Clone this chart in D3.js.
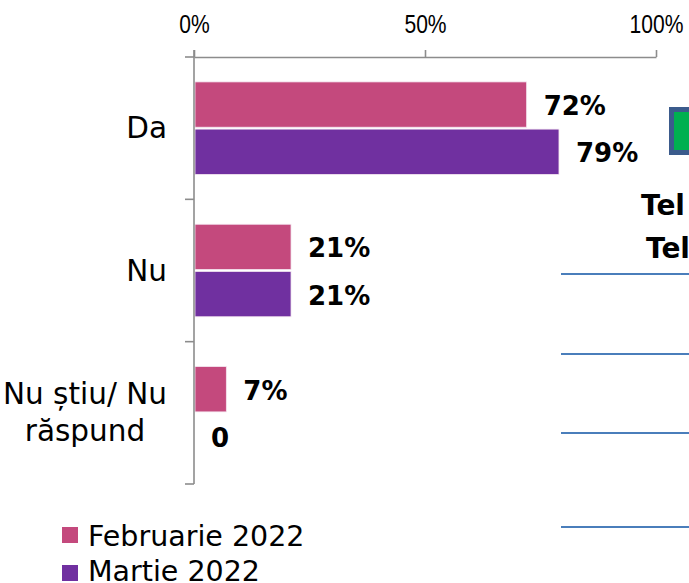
<!DOCTYPE html>
<html>
<head>
<meta charset="utf-8">
<script src="https://cdn.jsdelivr.net/npm/d3@7"></script>
<style>
  body { margin: 0; background: #fff; }
  svg { display: block; }
</style>
</head>
<body>
<div id="chart"></div>
<script>
var categories = ["Da", "Nu", "Nu știu/ Nu|răspund"];
var seriesNames = ["Februarie 2022", "Martie 2022"];
var februarie = [72, 21, 7];
var martie = [79, 21, 0];
var tickValues = [0, 50, 100];

var colors = ["#C4497D", "#7030A0"];

var width = 689,
  height = 583;

var svg = d3.select("#chart")
  .append("svg")
  .attr("width", width)
  .attr("height", height);

var x = d3.scaleLinear().domain([0, 100]).range([194, 656]);

var y = d3.scaleBand()
  .domain(categories)
  .range([57, 484])
  .paddingInner(0.35)
  .paddingOuter(0.175);

var ySub = d3.scaleBand()
  .domain(seriesNames)
  .range([0, y.bandwidth()])
  .paddingInner(0.04);

var rows = categories.map(function (c, i) {
  return { cat: c, values: [februarie[i], martie[i]] };
});

// bars
var groups = svg.selectAll(".cat")
  .data(rows)
  .enter()
  .append("g")
  .attr("transform", function (d) { return "translate(0," + y(d.cat) + ")" });

groups.selectAll("rect")
  .data(function (d) { return d.values.map(function (v, j) { return { v: v, s: seriesNames[j], j: j } }) })
  .enter()
  .append("rect")
  .attr("x", x(0) + 1)
  .attr("y", function (d) { return ySub(d.s) })
  .attr("height", ySub.bandwidth())
  .attr("width", function (d) { return Math.max(0, x(d.v) - x(0) - 1) })
  .attr("fill", function (d) { return colors[d.j] })
  .attr("stroke", function (d) { return d.v > 0 ? "#f4e6f0" : "none" })
  .attr("stroke-width", 0.8);

groups.selectAll(".val")
  .data(function (d) { return d.values.map(function (v, j) { return { v: v, s: seriesNames[j] } }) })
  .enter()
  .append("text")
  .attr("class", "val")
  .attr("x", function (d) { return x(d.v) + 17 })
  .attr("y", function (d) { return ySub(d.s) + ySub.bandwidth() / 2 + 10.5 })
  .attr("font-family", "DejaVu Sans")
  .attr("font-weight", "bold")
  .attr("font-size", 26)
  .attr("fill", "#000")
  .text(function (d) { return d.v === 0 ? "0" : d.v + "%" });

// top axis
var axisColor = "#8c8c8c";
var topAxis = svg.append("g")
  .attr("transform", "translate(0,57)")
  .call(d3.axisTop(x).tickValues(tickValues).tickSize(7).tickSizeOuter(0)
    .tickFormat(function (d) { return d + "%" }));

topAxis.select(".domain").attr("stroke", axisColor).attr("stroke-width", 1.6);
topAxis.selectAll(".tick line").attr("stroke", axisColor).attr("stroke-width", 1.6);
topAxis.selectAll(".tick text")
  .attr("y", -24)
  .attr("dy", 0)
  .attr("fill", "#000")
  .attr("font-family", "Liberation Sans")
  .attr("font-size", 26)
  .attr("transform", "scale(0.81,1)");

// left axis (category boundaries)
var step = y.step();
var bounds = categories.map(function (c) { return y(c) - y.paddingInner() * step / 2 });
bounds.push(y(categories[categories.length - 1]) + y.bandwidth() + y.paddingInner() * step / 2);

svg.append("line")
  .attr("x1", x(0)).attr("x2", x(0))
  .attr("y1", 50).attr("y2", bounds[bounds.length - 1])
  .attr("stroke", axisColor).attr("stroke-width", 1.6);

svg.selectAll(".ltick")
  .data(bounds)
  .enter()
  .append("line")
  .attr("x1", x(0) - 9).attr("x2", x(0))
  .attr("y1", function (d) { return d }).attr("y2", function (d) { return d })
  .attr("stroke", axisColor).attr("stroke-width", 1.6);

// category labels: block right-aligned, lines centred
categories.forEach(function (c) {
  var lines = c.split("|");
  var g = svg.append("g");
  var cy = y(c) + y.bandwidth() / 2;
  var lh = 37;
  var texts = lines.map(function (l, k) {
    return g.append("text")
      .attr("x", 0)
      .attr("y", cy + 10 + (k - (lines.length - 1) / 2) * lh)
      .attr("text-anchor", "middle")
      .attr("font-family", "DejaVu Sans")
      .attr("font-size", 29.5)
      .attr("fill", "#000")
      .text(l);
  });
  var w = d3.max(texts, function (t) { return t.node().getComputedTextLength() });
  g.attr("transform", "translate(" + (167 - w / 2) + ",0)");
});

// legend
var legend = svg.selectAll(".legend")
  .data(seriesNames)
  .enter()
  .append("g")
  .attr("transform", function (d, i) { return "translate(62," + (527 + i * 38) + ")" });

legend.append("rect")
  .attr("width", 16)
  .attr("height", 16)
  .attr("fill", function (d, i) { return colors[i] });

legend.append("text")
  .attr("x", 26)
  .attr("y", function (d, i) { return 19 - i * 3 })
  .attr("font-family", "DejaVu Sans")
  .attr("font-size", 28.5)
  .attr("fill", "#000")
  .text(function (d) { return d });

// pieces of the neighbouring slide content on the right
svg.append("rect")
  .attr("x", 671.5).attr("y", 109.5)
  .attr("width", 30).attr("height", 43)
  .attr("fill", "#00B050")
  .attr("stroke", "#3B5B8C")
  .attr("stroke-width", 5);

svg.append("text")
  .attr("x", 641).attr("y", 215)
  .attr("font-family", "DejaVu Sans").attr("font-weight", "bold")
  .attr("font-size", 28).text("Tel");
svg.append("text")
  .attr("x", 646).attr("y", 258)
  .attr("font-family", "DejaVu Sans").attr("font-weight", "bold")
  .attr("font-size", 28).text("Tel");

svg.selectAll(".rline")
  .data([274, 354, 433, 527])
  .enter()
  .append("line")
  .attr("x1", 561).attr("x2", 689)
  .attr("y1", function (d) { return d }).attr("y2", function (d) { return d })
  .attr("stroke", "#4A7EBB")
  .attr("stroke-width", 2);
</script>
</body>
</html>
